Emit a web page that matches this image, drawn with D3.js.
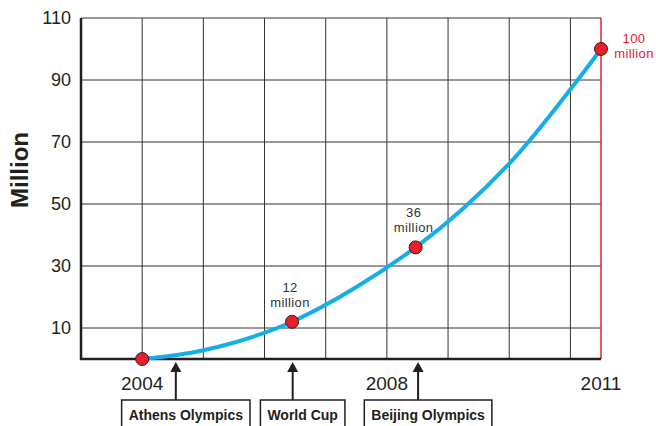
<!DOCTYPE html>
<html>
<head>
<meta charset="utf-8">
<script src="https://cdn.jsdelivr.net/npm/d3@7"></script>
<style>
  html, body { margin: 0; padding: 0; background: #fff; }
  svg { display: block; font-family: "Liberation Sans", Arial, sans-serif; }
</style>
</head>
<body>
<svg id="chart"></svg>
<script>
// Labelled milestones, in millions, by (fractional) year
const years = [2004, 2006.45, 2008.47, 2011.5];
const millions = [0, 12, 36, 100];
const pointLabels = [null, ['12', 'million'], ['36', 'million'], ['100', 'million']];

// Growth trend between the milestones
const trendYears = [2004, 2005, 2006.45, 2008.47, 2010, 2011.5];
const trendValues = [0, 2.8, 12, 36, 63, 100];

// Axis ticks
const yTicks = [10, 30, 50, 70, 90, 110];
const xGridYears = [2004, 2005, 2006, 2007, 2008, 2009, 2010, 2011];
const xTickYears = [2004, 2008, 2011.5];
const xTickLabels = ['2004', '2008', '2011'];

// Events marked under the axis
const eventNames = ['Athens Olympics', 'World Cup', 'Beijing Olympics'];
const eventYears = [2004.55, 2006.46, 2008.51];

document.addEventListener('DOMContentLoaded', function() {
    const width = 656;
    const height = 426;
    const margin = { top: 18, right: 55, bottom: 67, left: 81 };

    const svg = d3.select('#chart')
        .attr('width', width)
        .attr('height', height);

    const x = d3.scaleLinear()
        .domain([2003, 2011.5])
        .range([margin.left, width - margin.right]);

    const y = d3.scaleLinear()
        .domain([0, 110])
        .range([height - margin.bottom, margin.top]);

    const x0 = x.range()[0], x1 = x.range()[1];
    const y0 = y.range()[0], y1 = y.range()[1];

    // Grid
    const grid = svg.append('g').attr('stroke', '#333').attr('stroke-width', 1);
    grid.selectAll('.hg')
        .data(yTicks)
        .enter().append('line')
        .attr('x1', x0).attr('x2', x1)
        .attr('y1', d => y(d)).attr('y2', d => y(d));
    grid.selectAll('.vg')
        .data(xGridYears)
        .enter().append('line')
        .attr('x1', d => x(d)).attr('x2', d => x(d))
        .attr('y1', y1).attr('y2', y0);

    // Red line marking the end of the range
    svg.append('line')
        .attr('x1', x1).attr('x2', x1)
        .attr('y1', y1).attr('y2', y0)
        .attr('stroke', '#e8202a')
        .attr('stroke-width', 1.5);

    // Main axes
    svg.append('path')
        .attr('d', `M${x0},${y1}V${y0}H${x1}`)
        .attr('fill', 'none')
        .attr('stroke', '#231f20')
        .attr('stroke-width', 2.5);

    // Y tick labels
    svg.selectAll('.ylab')
        .data(yTicks)
        .enter().append('text')
        .attr('x', x0 - 10)
        .attr('y', d => y(d))
        .attr('dy', '0.35em')
        .attr('text-anchor', 'end')
        .attr('font-size', 18)
        .attr('fill', '#231f20')
        .text(d => d);

    // X tick labels
    svg.selectAll('.xlab')
        .data(xTickYears)
        .enter().append('text')
        .attr('x', d => x(d))
        .attr('y', y0 + 31)
        .attr('text-anchor', 'middle')
        .attr('font-size', 19)
        .attr('fill', '#231f20')
        .text((d, i) => xTickLabels[i]);

    // Axis title
    svg.append('text')
        .attr('transform', `translate(28,170) rotate(-90)`)
        .attr('text-anchor', 'middle')
        .attr('font-size', 24)
        .attr('font-weight', 'bold')
        .attr('fill', '#231f20')
        .text('Million');

    // Growth curve
    const trend = trendYears.map((d, i) => [d, trendValues[i]]);
    const line = d3.line()
        .x(d => x(d[0]))
        .y(d => y(d[1]))
        .curve(d3.curveCatmullRom.alpha(0.5));

    svg.append('path')
        .datum(trend)
        .attr('d', line)
        .attr('fill', 'none')
        .attr('stroke', '#14aee8')
        .attr('stroke-width', 4)
        .attr('stroke-linecap', 'round');

    // Milestone points
    const pts = years.map((d, i) => [d, millions[i]]);
    svg.selectAll('.pt')
        .data(pts)
        .enter().append('circle')
        .attr('cx', d => x(d[0]))
        .attr('cy', d => y(d[1]))
        .attr('r', 6.5)
        .attr('fill', '#e8202a')
        .attr('stroke', '#3a1a1a')
        .attr('stroke-width', 1);

    // Point labels
    pts.forEach(function(d, i) {
        const lab = pointLabels[i];
        if (!lab) return;
        const last = i === pts.length - 1;
        const t = svg.append('text')
            .attr('text-anchor', 'middle')
            .attr('font-size', 13)
            .attr('letter-spacing', 0.4)
            .attr('fill', last ? '#e8202a' : '#333');
        const cx = last ? x(d[0]) + 33 : x(d[0]) - 2;
        const cy = last ? y(d[1]) - 6 : y(d[1]) - 30;
        t.append('tspan').attr('x', cx).attr('y', cy).text(lab[0]);
        t.append('tspan').attr('x', cx).attr('y', cy + 15).text(lab[1]);
    });

    // Event arrows and boxes
    const ev = svg.selectAll('.ev')
        .data(eventYears)
        .enter().append('g');

    const boxTop = y0 + 41;
    ev.append('line')
        .attr('x1', d => x(d)).attr('x2', d => x(d))
        .attr('y1', boxTop).attr('y2', y0 + 10)
        .attr('stroke', '#231f20')
        .attr('stroke-width', 2);
    ev.append('path')
        .attr('d', d => `M${x(d)},${y0 + 3}l-5.5,10h11z`)
        .attr('fill', '#231f20');

    ev.each(function(d, i) {
        const g = d3.select(this);
        const cx = x(d) + 10;
        const t = g.append('text')
            .attr('x', cx)
            .attr('y', boxTop + 20)
            .attr('text-anchor', 'middle')
            .attr('font-size', 14)
            .attr('font-weight', 'bold')
            .attr('fill', '#231f20')
            .text(eventNames[i]);
        const w = t.node().getComputedTextLength();
        g.insert('rect', 'text')
            .attr('x', cx - w / 2 - 7)
            .attr('y', boxTop)
            .attr('width', w + 14)
            .attr('height', 40)
            .attr('fill', '#fff')
            .attr('stroke', '#231f20')
            .attr('stroke-width', 1.5);
    });
});
</script>
</body>
</html>
